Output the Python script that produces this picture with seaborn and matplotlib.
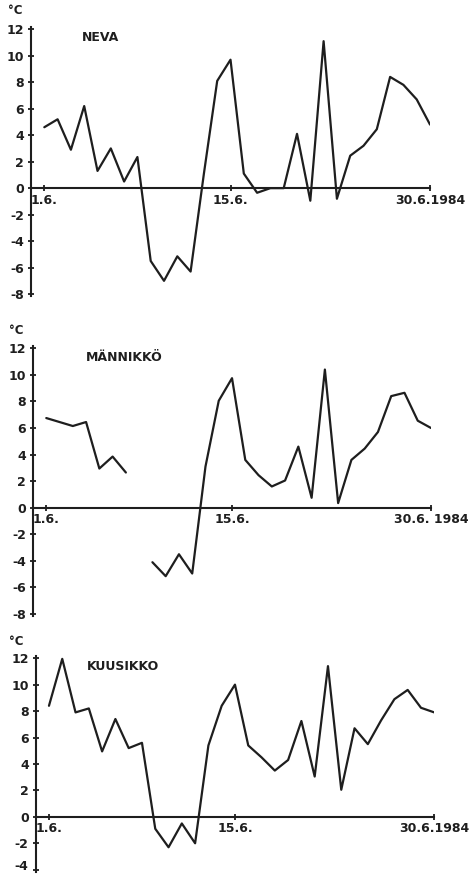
import numpy as np
import pandas as pd
import matplotlib
matplotlib.use("Agg")
import matplotlib.pyplot as plt
import seaborn as sns

# Daily minimum temperatures (°C), 1.-30. June 1984
days = list(range(1, 31))

neva = [4.6, 5.2, 2.9, 6.2, 1.3, 3.0, 0.5, 2.35, -5.5, -7.0,
        -5.15, -6.3, 1.1, 8.1, 9.7, 1.1, -0.35, 0.0, 0.0, 4.1,
        -0.95, 11.1, -0.8, 2.45, 3.2, 4.45, 8.4, 7.8, 6.7, 4.8]

mannikko = [6.75, 6.45, 6.15, 6.45, 2.95, 3.85, 2.65, None, -4.1, -5.15,
            -3.5, -4.95, 3.1, 8.05, 9.75, 3.6, 2.45, 1.6, 2.05, 4.6,
            0.75, 10.4, 0.35, 3.6, 4.45, 5.7, 8.4, 8.65, 6.55, 6.0]

kuusikko = [8.4, 11.95, 7.9, 8.2, 4.95, 7.4, 5.2, 5.6, -0.9, -2.3,
            -0.5, -2.0, 5.4, 8.4, 10.0, 5.4, 4.5, 3.5, 4.3, 7.25,
            3.05, 11.4, 2.05, 6.7, 5.5, 7.3, 8.9, 9.6, 8.25, 7.9]

site_names = ["NEVA", "MÄNNIKKÖ", "KUUSIKKO"]
x_tick_days = [1, 15, 30]
x_tick_labels = [["1.6.", "15.6.", "30.6.1984"],
                 ["1.6.", "15.6.", "30.6. 1984"],
                 ["1.6.", "15.6.", "30.6.1984"]]
y_ranges = [(-8, 12), (-8, 12), (-4, 12)]

sns.set_theme(style="white")
plt.rcParams["font.family"] = ["DejaVu Sans"]
plt.rcParams["font.weight"] = "bold"

INK = "#1e1e1e"

fig = plt.figure(figsize=(4.77, 8.75), dpi=100)
fig.patch.set_facecolor("white")

# [left, bottom, width, height] of each panel in figure fractions
boxes = [
    [0.0650, 0.6609, 0.8365, 0.3087],
    [0.0692, 0.2952, 0.8344, 0.3098],
    [0.0748, 0.0030, 0.8356, 0.2478],
]
unit_pos = [(-1.2, 13.4), (-1.26, 13.35), (-1.43, 13.3)]
name_pos = [(3.8, 11.35), (3.95, 11.3), (3.85, 11.37)]


def to_frame(values):
    """Long-form frame; a missing day splits the series into segments."""
    df = pd.DataFrame({"day": days, "temp": values})
    df["segment"] = df["temp"].isna().cumsum()
    return df.dropna()


for i, values in enumerate([neva, mannikko, kuusikko]):
    ax = fig.add_axes(boxes[i])
    ax.set_facecolor("none")
    df = to_frame(values)
    sns.lineplot(data=df, x="day", y="temp", units="segment", estimator=None,
                 color=INK, linewidth=1.6, ax=ax, legend=False)

    lo, hi = y_ranges[i]
    ax.set_xlim(0, 30)
    ax.set_ylim(lo - 0.2, hi + 0.2)

    for side in ("top", "right"):
        ax.spines[side].set_visible(False)
    ax.spines["bottom"].set_position(("data", 0))
    ax.spines["left"].set_bounds(lo - 0.15, hi + 0.15)
    for side in ("left", "bottom"):
        ax.spines[side].set_color(INK)
        ax.spines[side].set_linewidth(1.5)
        ax.spines[side].set_visible(True)

    ax.set_yticks(np.arange(lo, hi + 1, 2))
    ax.set_yticklabels([str(v) for v in range(lo, hi + 1, 2)])
    ax.set_xticks(x_tick_days)
    ax.set_xticklabels(x_tick_labels[i])
    ax.tick_params(axis="both", direction="inout", length=5, width=1.3,
                   color=INK, labelcolor=INK, labelsize=9)
    ax.tick_params(axis="y", pad=2.5)
    ax.tick_params(axis="x", pad=1.5)
    ax.tick_params(axis="both", left=True, bottom=True)
    for lab in ax.get_xticklabels() + ax.get_yticklabels():
        lab.set_fontweight("bold")
    ax.set_xlabel("")
    ax.set_ylabel("")
    # keep the lowest label of the short bottom axis inside the figure
    if lo == -4:
        ax.get_yticklabels()[0].set_verticalalignment("baseline")

    ux, uy = unit_pos[i]
    ax.text(ux, uy, "°C", ha="center", va="center", fontsize=8.5,
            fontweight="bold", color=INK, clip_on=False)
    nx, ny = name_pos[i]
    ax.text(nx, ny, site_names[i], ha="left", va="center", fontsize=9,
            fontweight="bold", color=INK)

fig.savefig("out.png", dpi=100, facecolor="white")
